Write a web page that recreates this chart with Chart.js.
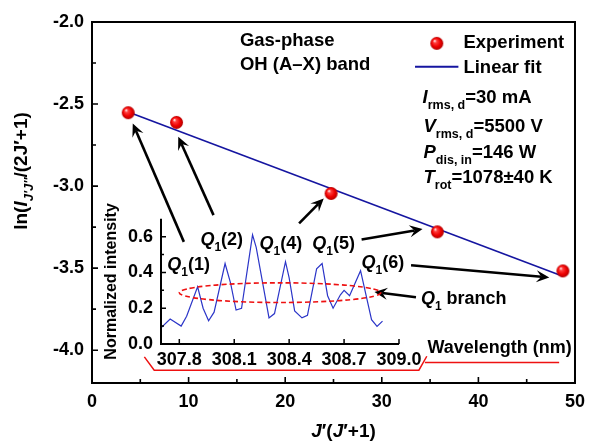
<!DOCTYPE html>
<html>
<head>
<meta charset="utf-8">
<script src="https://cdn.jsdelivr.net/npm/chart.js@4/dist/chart.umd.min.js"></script>
<style>
  html, body { margin: 0; padding: 0; background: #fff; }
  #wrap { position: relative; width: 593px; height: 442px; overflow: hidden; }
  #main { position: absolute; left: 0; top: 0; }
  #inset { position: absolute; left: 100px; top: 200px; }
</style>
</head>
<body>
<div id="wrap">
  <canvas id="main" width="593" height="442"></canvas>
  <canvas id="inset" width="340" height="170"></canvas>
</div>
<script>
// Boltzmann plot: J'(J'+1) vs ln(I/(2J'+1)) for the Q1 branch lines
const jTerm = [3.75, 8.75, 24.75, 35.75, 48.75];
const lnIntensity = [-2.553, -2.612, -3.045, -3.279, -3.517];

// Linear fit end points
const fitJ = [3.75, 48.75];
const fitLn = [-2.549, -3.549];

const mainXTicks = [0, 10, 20, 30, 40, 50];
const mainXMinor = [5, 15, 25, 35, 45];
const mainYTicks = [-2.0, -2.5, -3.0, -3.5, -4.0];
const mainYMinor = [-2.25, -2.75, -3.25, -3.75];

// Emission spectrum of the OH (A-X) Q1 branch region
const wavelength = [307.70, 307.75, 307.81, 307.84, 307.90, 307.93, 307.96, 307.99,
  308.05, 308.08, 308.11, 308.14, 308.20, 308.22, 308.29, 308.32, 308.38, 308.40,
  308.43, 308.47, 308.50, 308.55, 308.58, 308.61, 308.64, 308.68, 308.70, 308.73,
  308.79, 308.85, 308.88, 308.91];
const normIntensity = [0.09, 0.14, 0.10, 0.155, 0.32, 0.20, 0.13, 0.178,
  0.45, 0.34, 0.19, 0.20, 0.61, 0.54, 0.146, 0.17, 0.46, 0.37,
  0.185, 0.146, 0.16, 0.42, 0.45, 0.27, 0.20, 0.275, 0.30, 0.27,
  0.41, 0.136, 0.098, 0.128];

const insetXTicks = [307.8, 308.1, 308.4, 308.7, 309.0];
const insetYTicks = [0.0, 0.2, 0.4, 0.6];
const insetYMinor = [0.1, 0.3, 0.5];

const FONT = '"Liberation Sans", Arial, Helvetica, sans-serif';

function sphere(r) {
  const c = document.createElement('canvas');
  const s = 2 * r + 2;
  c.width = c.height = s;
  const g = c.getContext('2d');
  const cx = s / 2, cy = s / 2;
  const grad = g.createRadialGradient(cx - r * 0.35, cy - r * 0.4, r * 0.05, cx, cy, r);
  grad.addColorStop(0, '#fff0f0');
  grad.addColorStop(0.22, '#ff4040');
  grad.addColorStop(0.65, '#ee0000');
  grad.addColorStop(1, '#b00000');
  g.fillStyle = grad;
  g.beginPath();
  g.arc(cx, cy, r, 0, Math.PI * 2);
  g.fill();
  return c;
}
const ball = sphere(6.5);

// Rich text: parts = [{t, it, sub}] drawn from (x, y) on the baseline
function richWidth(ctx, parts, size, subSize) {
  let w = 0;
  for (const p of parts) {
    ctx.font = (p.it ? 'italic ' : '') + 'bold ' + (p.sub ? subSize : size) + 'px ' + FONT;
    w += ctx.measureText(p.t).width;
  }
  return w;
}
function drawRich(ctx, x, y, parts, size, subSize) {
  subSize = subSize || Math.round(size * 0.68);
  ctx.save();
  ctx.fillStyle = '#000';
  ctx.textBaseline = 'alphabetic';
  ctx.textAlign = 'left';
  let cx = x;
  for (const p of parts) {
    ctx.font = (p.it ? 'italic ' : '') + 'bold ' + (p.sub ? subSize : size) + 'px ' + FONT;
    ctx.fillText(p.t, cx, y + (p.sub ? size * 0.3 : 0));
    cx += ctx.measureText(p.t).width;
  }
  ctx.restore();
}

function arrow(ctx, x1, y1, x2, y2) {
  const ang = Math.atan2(y2 - y1, x2 - x1);
  const len = 13, half = 6, notch = 8;
  const bx = x2 - Math.cos(ang) * notch, by = y2 - Math.sin(ang) * notch;
  ctx.save();
  ctx.strokeStyle = '#000';
  ctx.fillStyle = '#000';
  ctx.lineWidth = 2.6;
  ctx.beginPath();
  ctx.moveTo(x1, y1);
  ctx.lineTo(bx, by);
  ctx.stroke();
  const ax = x2 - Math.cos(ang) * len, ay = y2 - Math.sin(ang) * len;
  ctx.beginPath();
  ctx.moveTo(x2, y2);
  ctx.lineTo(ax - Math.sin(ang) * half, ay + Math.cos(ang) * half);
  ctx.lineTo(bx, by);
  ctx.lineTo(ax + Math.sin(ang) * half, ay - Math.cos(ang) * half);
  ctx.closePath();
  ctx.fill();
  ctx.restore();
}

// Arrows from the line labels to their points, in data units [x1, y1, x2, y2]
const arrows = [
  [9.51, -3.340, 4.22, -2.618],
  [12.58, -3.177, 8.93, -2.699],
  [21.44, -3.227, 23.99, -3.075],
  [27.91, -3.325, 34.22, -3.262],
  [33.03, -3.482, 47.34, -3.557],
  [33.54, -3.677, 29.24, -3.646]
];
const qLabels = [
  ['1', 7.80, -3.512],
  ['2', 11.22, -3.360],
  ['4', 17.35, -3.386],
  ['5', 22.80, -3.386],
  ['6', 27.91, -3.500]
];

const mainPlugin = {
  id: 'mainDecor',
  beforeDraw(chart) {
    const ctx = chart.ctx;
    ctx.save();
    ctx.fillStyle = '#fff';
    ctx.fillRect(0, 0, chart.width, chart.height);
    ctx.restore();
  },
  afterDraw(chart) {
    const ctx = chart.ctx;
    const xs = chart.scales.x, ys = chart.scales.y;
    const a = chart.chartArea;
    const X = v => xs.getPixelForValue(v);
    const Y = v => ys.getPixelForValue(v);

    // frame
    ctx.save();
    ctx.strokeStyle = '#000';
    ctx.lineWidth = 2;
    ctx.strokeRect(a.left, a.top, a.right - a.left, a.bottom - a.top);

    // inward ticks
    ctx.lineWidth = 1.6;
    ctx.beginPath();
    for (const v of mainXTicks) { const p = X(v); ctx.moveTo(p, a.bottom); ctx.lineTo(p, a.bottom - 6); }
    for (const v of mainXMinor) { const p = X(v); ctx.moveTo(p, a.bottom); ctx.lineTo(p, a.bottom - 4); }
    for (const v of mainYTicks) { const p = Y(v); ctx.moveTo(a.left, p); ctx.lineTo(a.left + 6, p); }
    for (const v of mainYMinor) { const p = Y(v); ctx.moveTo(a.left, p); ctx.lineTo(a.left + 4, p); }
    ctx.stroke();

    // red bracket under the wavelength axis
    ctx.strokeStyle = '#ee1111';
    ctx.lineWidth = 1.5;
    ctx.beginPath();
    ctx.moveTo(X(5.42), Y(-4.041));
    ctx.lineTo(X(6.44), Y(-4.122));
    ctx.lineTo(X(33.84), Y(-4.122));
    ctx.lineTo(X(34.66), Y(-4.037));
    ctx.moveTo(X(34.46), Y(-4.075));
    ctx.lineTo(X(48.36), Y(-4.075));
    ctx.stroke();
    ctx.restore();

    // arrows
    for (const r of arrows) arrow(ctx, X(r[0]), Y(r[1]), X(r[2]), Y(r[3]));

    // branch line labels
    for (const q of qLabels) {
      drawRich(ctx, X(q[1]), Y(q[2]), [{t: 'Q', it: true}, {t: '1', sub: true}, {t: '(' + q[0] + ')'}], 18, 12);
    }
    drawRich(ctx, X(34.05), Y(-3.720), [{t: 'Q', it: true}, {t: '1', sub: true}, {t: ' branch'}], 18, 12);
    drawRich(ctx, X(34.73), Y(-4.020), [{t: 'Wavelength (nm)'}], 18);

    // header text
    drawRich(ctx, X(15.31), Y(-2.146), [{t: 'Gas-phase'}], 18.5);
    drawRich(ctx, X(15.31), Y(-2.293), [{t: 'OH (A\u2013X) band'}], 18.5);

    // legend
    ctx.drawImage(ball, X(35.69) - ball.width / 2, Y(-2.130) - ball.height / 2);
    drawRich(ctx, X(38.45), Y(-2.160), [{t: 'Experiment'}], 18.5);
    ctx.save();
    ctx.strokeStyle = '#1515a0';
    ctx.lineWidth = 2;
    ctx.beginPath();
    ctx.moveTo(X(33.44), Y(-2.273));
    ctx.lineTo(X(37.93), Y(-2.273));
    ctx.stroke();
    ctx.restore();
    drawRich(ctx, X(38.45), Y(-2.313), [{t: 'Linear fit'}], 18.5);

    // discharge parameters
    drawRich(ctx, X(34.22), Y(-2.494), [{t: 'I', it: true}, {t: 'rms, d', sub: true}, {t: '=30 mA'}], 18.5, 12.5);
    drawRich(ctx, X(34.32), Y(-2.671), [{t: 'V', it: true}, {t: 'rms, d', sub: true}, {t: '=5500 V'}], 18.5, 12.5);
    drawRich(ctx, X(34.32), Y(-2.829), [{t: 'P', it: true}, {t: 'dis, in', sub: true}, {t: '=146 W'}], 18.5, 12.5);
    drawRich(ctx, X(34.32), Y(-2.982), [{t: 'T', it: true}, {t: 'rot', sub: true}, {t: '=1078\u00B140 K'}], 18.5, 12.5);

    // axis titles
    const xt = [{t: 'J', it: true}, {t: '\u2032('}, {t: 'J', it: true}, {t: '\u2032+1)'}];
    ctx.save();
    const wx = richWidth(ctx, xt, 19, 13);
    ctx.restore();
    drawRich(ctx, (a.left + a.right) / 2 + 10 - wx / 2, 437, xt, 19);

    const yt = [{t: 'ln('}, {t: 'I', it: true}, {t: 'J\u2032J\u2033', it: true, sub: true}, {t: '/(2J\u2032+1)'}];
    ctx.save();
    const wy = richWidth(ctx, yt, 19, 13);
    ctx.translate(27, 171);
    ctx.rotate(-Math.PI / 2);
    drawRich(ctx, -wy / 2, 0, yt, 19, 13);
    ctx.restore();
  }
};

const tickFont = {family: FONT, size: 18, weight: 'bold'};

new Chart(document.getElementById('main'), {
  type: 'scatter',
  data: {
    datasets: [
      {
        label: 'Experiment',
        data: jTerm.map((x, i) => ({x, y: lnIntensity[i]})),
        pointStyle: ball,
        pointRadius: 7,
        pointHoverRadius: 7
      },
      {
        label: 'Linear fit',
        type: 'line',
        data: fitJ.map((x, i) => ({x, y: fitLn[i]})),
        borderColor: '#1515a0',
        borderWidth: 1.6,
        pointRadius: 0,
        fill: false,
        tension: 0
      }
    ]
  },
  options: {
    responsive: false,
    animation: false,
    devicePixelRatio: 1,
    layout: {padding: {left: 0, top: 22, right: 12, bottom: 0}},
    plugins: {legend: {display: false}, tooltip: {enabled: false}},
    scales: {
      x: {
        type: 'linear', min: 0, max: 50,
        afterBuildTicks: s => { s.ticks = mainXTicks.map(v => ({value: v})); },
        afterFit: s => { s.height = 59; },
        grid: {display: false, drawTicks: false},
        border: {display: false},
        ticks: {font: tickFont, color: '#000', padding: 8, maxRotation: 0, autoSkip: false, callback: v => String(v)}
      },
      y: {
        type: 'linear', min: -4.2, max: -2.0,
        afterBuildTicks: s => { s.ticks = mainYTicks.map(v => ({value: v})); },
        afterFit: s => { s.width = 92; },
        grid: {display: false, drawTicks: false},
        border: {display: false},
        ticks: {font: tickFont, color: '#000', padding: 8, autoSkip: false, callback: v => v.toFixed(1)}
      }
    }
  },
  plugins: [mainPlugin]
});

const insetPlugin = {
  id: 'insetDecor',
  afterDraw(chart) {
    const ctx = chart.ctx;
    const xs = chart.scales.x, ys = chart.scales.y;
    const a = chart.chartArea;
    const X = v => xs.getPixelForValue(v);
    const Y = v => ys.getPixelForValue(v);
    ctx.save();
    // axes
    ctx.strokeStyle = '#000';
    ctx.lineWidth = 2;
    ctx.beginPath();
    ctx.moveTo(a.left, a.top);
    ctx.lineTo(a.left, a.bottom);
    ctx.lineTo(a.right, a.bottom);
    ctx.stroke();
    ctx.lineWidth = 1.5;
    ctx.beginPath();
    for (const v of insetYTicks) { const p = Y(v); ctx.moveTo(a.left, p); ctx.lineTo(a.left + 5, p); }
    for (const v of insetYMinor) { const p = Y(v); ctx.moveTo(a.left, p); ctx.lineTo(a.left + 3, p); }
    for (const v of insetXTicks) { const p = X(v); ctx.moveTo(p, a.bottom); ctx.lineTo(p, a.bottom - 5); }
    ctx.stroke();

    // dashed ellipse around the Q1 branch peaks
    ctx.strokeStyle = '#ee1111';
    ctx.lineWidth = 1.6;
    ctx.setLineDash([5, 3]);
    const cx = X(308.35), cy = Y(0.287);
    const rx = X(308.35 + 0.55) - cx, ry = cy - Y(0.287 + 0.055);
    ctx.beginPath();
    ctx.ellipse(cx, cy, rx, ry, 0, 0, Math.PI * 2);
    ctx.stroke();
    ctx.setLineDash([]);

    // y title
    ctx.fillStyle = '#000';
    ctx.font = 'bold 16px ' + FONT;
    ctx.textAlign = 'center';
    ctx.textBaseline = 'middle';
    ctx.translate(12, (a.top + a.bottom) / 2);
    ctx.rotate(-Math.PI / 2);
    ctx.fillText('Normalized intensity', 0, 0);
    ctx.restore();
  }
};

new Chart(document.getElementById('inset'), {
  type: 'line',
  data: {
    datasets: [{
      label: 'Spectrum',
      data: wavelength.map((x, i) => ({x, y: normIntensity[i]})),
      borderColor: '#2b35c8',
      borderWidth: 1.2,
      pointRadius: 0,
      fill: false,
      tension: 0
    }]
  },
  options: {
    responsive: false,
    animation: false,
    devicePixelRatio: 1,
    layout: {padding: {left: 0, top: 13, right: 41, bottom: 0}},
    plugins: {legend: {display: false}, tooltip: {enabled: false}},
    scales: {
      x: {
        type: 'linear', min: 307.7, max: 309.0,
        afterBuildTicks: s => { s.ticks = insetXTicks.map(v => ({value: v})); },
        afterFit: s => { s.height = 26; },
        grid: {display: false, drawTicks: false},
        border: {display: false},
        ticks: {font: tickFont, color: '#000', padding: 5, maxRotation: 0, autoSkip: false, callback: v => v.toFixed(1)}
      },
      y: {
        type: 'linear', min: 0, max: 0.7,
        afterBuildTicks: s => { s.ticks = insetYTicks.map(v => ({value: v})); },
        afterFit: s => { s.width = 61; },
        grid: {display: false, drawTicks: false},
        border: {display: false},
        ticks: {font: tickFont, color: '#000', padding: 8, autoSkip: false, callback: v => v.toFixed(1)}
      }
    }
  },
  plugins: [insetPlugin]
});
</script>
</body>
</html>
